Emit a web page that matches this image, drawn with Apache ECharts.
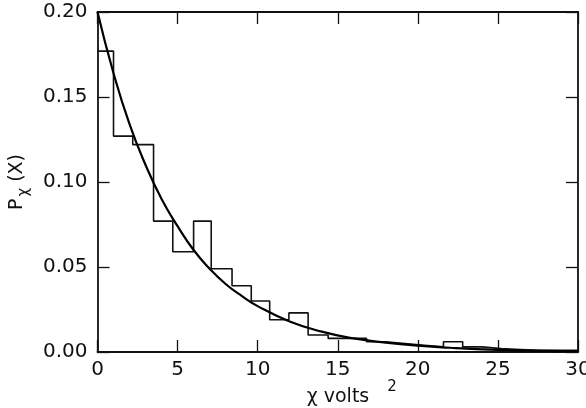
<!DOCTYPE html>
<html><head><meta charset="utf-8">
<script src="https://cdn.jsdelivr.net/npm/echarts@6/dist/echarts.min.js"></script>
<style>html,body{margin:0;padding:0;background:#fff}#c{width:586px;height:408px}</style>
</head><body><div id="c"></div>
<script>
// histogram bin edges (x) and bin heights
var binEdges = [0, 1.0, 2.2, 3.5, 4.7, 6.0, 7.1, 8.4, 9.6, 10.75, 11.95, 13.15, 14.4, 15.6, 16.8, 18.0, 19.2, 20.4, 21.6, 22.8, 24.0, 25.2, 26.4, 27.6, 28.8, 30.0];
var binValues = [0.177, 0.127, 0.122, 0.077, 0.059, 0.077, 0.049, 0.039, 0.030, 0.019, 0.023, 0.010, 0.008, 0.008, 0.006, 0.005, 0.004, 0.003, 0.006, 0.003, 0.002, 0.0015, 0.001, 0.001, 0.001];
// fitted curve points
var curveX = [0, 1, 2, 3, 4, 5, 6, 7, 8, 9, 10, 12, 14, 16, 18, 20, 22, 25, 28, 30];
var curveY = [0.200, 0.164, 0.134, 0.110, 0.090, 0.074, 0.060, 0.049, 0.040, 0.033, 0.027, 0.018, 0.012, 0.008, 0.0055, 0.0037, 0.0025, 0.0013, 0.0007, 0.0005];
var xTicks = [0, 5, 10, 15, 20, 25, 30];
var yTicks = [0.00, 0.05, 0.10, 0.15, 0.20];

var histPts = [];
for (var i = 0; i < binValues.length; i++) {
  histPts.push([binEdges[i], binValues[i]]);
  histPts.push([binEdges[i + 1], binValues[i]]);
}
var curvePts = curveX.map(function (x, i) { return [x, curveY[i]]; });

var font = 'DejaVu Sans';
var lineStyle = { color: '#111', width: 1.8 };
var tickStyle = { show: true, inside: true, length: 12, lineStyle: { color: '#111', width: 1.3 } };
var chart = echarts.init(document.getElementById('c'));
chart.setOption({
  animation: false,
  backgroundColor: '#fff',
  grid: { left: 97.5, right: 8, top: 12, bottom: 56, containLabel: false, outerBoundsMode: 'none' },
  xAxis: [{
    type: 'value', min: 0, max: 30, interval: 5, position: 'bottom',
    axisLine: { show: true, onZero: false, lineStyle: lineStyle },
    axisTick: tickStyle,
    axisLabel: { color: '#111', fontFamily: font, fontSize: 20, margin: 8,
      formatter: function (v) { return xTicks.indexOf(v) >= 0 ? String(v) : ''; } },
    splitLine: { show: false },
    name: 'χ volts{sup|2}', nameLocation: 'middle', nameGap: 28, nameMoveOverlap: false,
    nameTextStyle: { color: '#111', fontFamily: font, fontSize: 19, padding: [0, 0, 0, 28],
      rich: { sup: { fontSize: 15, fontFamily: font, color: '#111', padding: [0, 0, 20, 18] } } }
  }, {
    type: 'value', min: 0, max: 30, interval: 5, position: 'top',
    axisLine: { show: true, onZero: false, lineStyle: lineStyle },
    axisTick: tickStyle,
    axisLabel: { show: false }, splitLine: { show: false }
  }],
  yAxis: [{
    type: 'value', min: 0, max: 0.2, interval: 0.05, position: 'left',
    axisLine: { show: true, onZero: false, lineStyle: lineStyle },
    axisTick: tickStyle,
    axisLabel: { color: '#111', fontFamily: font, fontSize: 20, margin: 10,
      formatter: function (v) { return v.toFixed(2); } },
    splitLine: { show: false },
    name: 'P{sub|χ} (X)', nameLocation: 'middle', nameGap: 66, nameRotate: 90, nameMoveOverlap: false,
    nameTextStyle: { color: '#111', fontFamily: font, fontSize: 19,
      rich: { sub: { fontSize: 15, fontFamily: font, color: '#111', padding: [14, 0, 0, 2] } } }
  }, {
    type: 'value', min: 0, max: 0.2, interval: 0.05, position: 'right',
    axisLine: { show: true, onZero: false, lineStyle: lineStyle },
    axisTick: tickStyle,
    axisLabel: { show: false }, splitLine: { show: false }
  }],
  series: [{
    type: 'line', data: histPts, showSymbol: false, symbol: 'none',
    lineStyle: { color: '#111', width: 1.6 }, z: 3
  }, {
    type: 'line', data: curvePts, smooth: true, showSymbol: false, symbol: 'none',
    lineStyle: { color: '#000', width: 2.2 }, z: 4
  }]
});
</script></body></html>
